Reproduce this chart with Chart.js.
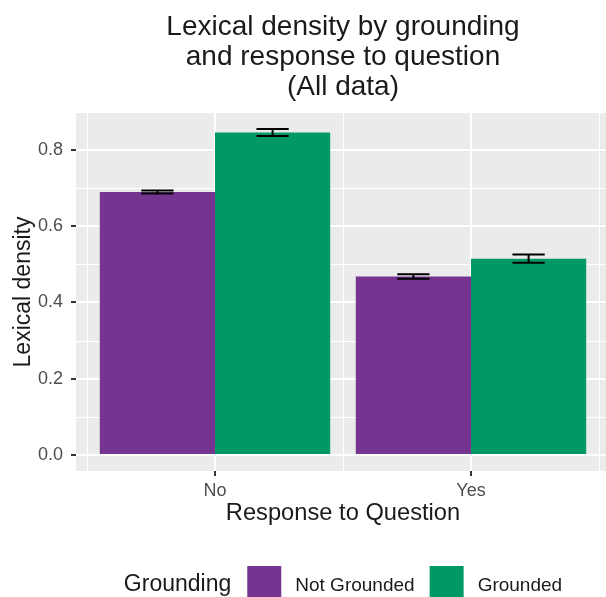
<!DOCTYPE html>
<html>
<head>
<meta charset="utf-8">
<script src="https://cdn.jsdelivr.net/npm/chart.js@4.4.1/dist/chart.umd.min.js"></script>
<style>
  html, body { margin: 0; padding: 0; background: #fff; overflow: hidden; }
  #wrap { width: 606px; height: 597px; overflow: hidden; }
</style>
</head>
<body>
<div id="wrap"><canvas id="Graph" width="686" height="597"></canvas></div>
<script>
// Chart values
var titleLines = ['Lexical density by grounding', 'and response to question', '(All data)'];
var responses = ['No', 'Yes'];
var responsePos = [1, 2];
var groupNames = ['Not Grounded', 'Grounded'];
var notGrounded = [0.690, 0.468];
var notGroundedErr = [0.004, 0.006];
var grounded = [0.846, 0.515];
var groundedErr = [0.009, 0.011];
var yTickValues = [0, 0.2, 0.4, 0.6, 0.8];
var yMinorValues = [0.1, 0.3, 0.5, 0.7];
var xMinorValues = [0.5, 1.5, 2.5];
var xLimits = [0.457, 2.543];
var yLimits = [-0.042, 0.897];
var legendTitle = 'Grounding';
var xTitle = 'Response to Question';
var yTitle = 'Lexical density';

var FONT = "'Liberation Sans', Arial, Helvetica, sans-serif";
Chart.defaults.font.family = FONT;

function points(vals) {
  return responsePos.map(function (x, i) { return { x: x, y: vals[i] }; });
}

// grey panel + minor grid lines (under the major ones)
var panelPlugin = {
  id: 'panel',
  beforeDraw: function (chart) {
    var ctx = chart.ctx, a = chart.chartArea;
    var xs = chart.scales.x, ys = chart.scales.y;
    ctx.save();
    ctx.fillStyle = '#EBEBEB';
    ctx.fillRect(a.left, a.top, a.right - a.left, a.bottom - a.top);
    ctx.strokeStyle = '#FFFFFF';
    ctx.lineWidth = 1;
    ctx.beginPath();
    yMinorValues.forEach(function (v) {
      var y = Math.round(ys.getPixelForValue(v)) + 0.5;
      ctx.moveTo(a.left, y); ctx.lineTo(a.right, y);
    });
    xMinorValues.forEach(function (v) {
      var x = Math.round(xs.getPixelForValue(v)) + 0.5;
      ctx.moveTo(x, a.top); ctx.lineTo(x, a.bottom);
    });
    ctx.stroke();
    ctx.restore();
  }
};

// error bars from each dataset's "errors" list
var errorBarPlugin = {
  id: 'errorBars',
  afterDatasetsDraw: function (chart) {
    var ctx = chart.ctx, ys = chart.scales.y;
    ctx.save();
    ctx.strokeStyle = '#000000';
    ctx.lineWidth = 2;
    chart.data.datasets.forEach(function (ds, di) {
      var meta = chart.getDatasetMeta(di);
      meta.data.forEach(function (bar, i) {
        var v = ds.data[i].y, e = ds.errors[i];
        var top = ys.getPixelForValue(v + e), bot = ys.getPixelForValue(v - e);
        var half = bar.width * 0.14;
        ctx.beginPath();
        ctx.moveTo(bar.x - half, top); ctx.lineTo(bar.x + half, top);
        ctx.moveTo(bar.x - half, bot); ctx.lineTo(bar.x + half, bot);
        ctx.moveTo(bar.x, top); ctx.lineTo(bar.x, bot);
        ctx.stroke();
      });
    });
    ctx.restore();
  }
};

// title centred over the panel, legend below
var textPlugin = {
  id: 'texts',
  afterDraw: function (chart) {
    var ctx = chart.ctx, a = chart.chartArea;
    var cx = (a.left + a.right) / 2;
    ctx.save();
    ctx.fillStyle = '#1A1A1A';
    ctx.textAlign = 'center';
    ctx.textBaseline = 'alphabetic';
    ctx.font = '28px ' + FONT;
    titleLines.forEach(function (t, i) {
      ctx.fillText(t, cx, a.top - 78 + i * 30);
    });

    // legend
    var baseY = a.bottom + 120, boxTop = a.bottom + 95, box = 34;
    ctx.font = '23px ' + FONT;
    var wTitle = ctx.measureText(legendTitle).width;
    ctx.font = '19px ' + FONT;
    var ds = chart.data.datasets;
    var wLabels = ds.map(function (d) { return ctx.measureText(d.label).width; });
    var total = wTitle + 16;
    wLabels.forEach(function (w, i) { total += box + 14 + w + (i < wLabels.length - 1 ? 15 : 0); });
    var x = cx - total / 2;
    ctx.textAlign = 'left';
    ctx.font = '23px ' + FONT;
    ctx.fillText(legendTitle, x, baseY);
    x += wTitle + 16;
    ctx.font = '19px ' + FONT;
    ds.forEach(function (d, i) {
      ctx.fillStyle = d.backgroundColor;
      ctx.fillRect(x, boxTop, box, box);
      x += box + 14;
      ctx.fillStyle = '#1A1A1A';
      ctx.fillText(d.label, x, baseY);
      x += wLabels[i] + 15;
    });
    ctx.restore();
  }
};

var twoDRep = document.getElementById('Graph').getContext('2d');
var chart = new Chart(twoDRep, {
  type: 'bar',
  data: {
    datasets: [{
      label: groupNames[0],
      data: points(notGrounded),
      errors: notGroundedErr,
      backgroundColor: '#74348F',
      categoryPercentage: 0.9,
      barPercentage: 1.0
    }, {
      label: groupNames[1],
      data: points(grounded),
      errors: groundedErr,
      backgroundColor: '#009866',
      categoryPercentage: 0.9,
      barPercentage: 1.0
    }]
  },
  options: {
    responsive: false,
    animation: false,
    devicePixelRatio: 1,
    layout: { padding: { top: 113, right: 76, bottom: 69, left: 0 } },
    plugins: {
      legend: { display: false },
      title: { display: false },
      tooltip: { enabled: false }
    },
    scales: {
      x: {
        type: 'linear',
        min: xLimits[0],
        max: xLimits[1],
        offset: false,
        afterBuildTicks: function (scale) {
          scale.ticks = responsePos.map(function (v) { return { value: v }; });
        },
        afterFit: function (scale) { scale.height = 57; },
        grid: {
          offset: false,
          color: '#FFFFFF',
          lineWidth: 2,
          drawTicks: true,
          tickLength: 5,
          tickColor: '#333333',
          tickWidth: 2
        },
        border: { display: false },
        ticks: {
          autoSkip: false,
          maxRotation: 0,
          padding: 4,
          color: '#4D4D4D',
          font: { size: 18 },
          callback: function (value) {
            var i = responsePos.indexOf(value);
            return i >= 0 ? responses[i] : '';
          }
        },
        title: {
          display: true,
          text: xTitle,
          color: '#1A1A1A',
          font: { size: 23.7 },
          padding: { top: 4, bottom: 0 }
        }
      },
      y: {
        min: yLimits[0],
        max: yLimits[1],
        afterBuildTicks: function (scale) {
          scale.ticks = yTickValues.map(function (v) { return { value: v }; });
        },
        afterFit: function (scale) { scale.width = 76; },
        grid: {
          color: '#FFFFFF',
          lineWidth: 2,
          drawTicks: true,
          tickLength: 5,
          tickColor: '#333333',
          tickWidth: 2
        },
        border: { display: false },
        ticks: {
          autoSkip: false,
          padding: 8,
          color: '#4D4D4D',
          font: { size: 18 },
          callback: function (value) { return Number(value).toFixed(1); }
        },
        title: {
          display: true,
          text: yTitle,
          color: '#1A1A1A',
          font: { size: 23 },
          padding: { top: 10, bottom: 0 }
        }
      }
    }
  },
  plugins: [panelPlugin, errorBarPlugin, textPlugin]
});
</script>
</body>
</html>
